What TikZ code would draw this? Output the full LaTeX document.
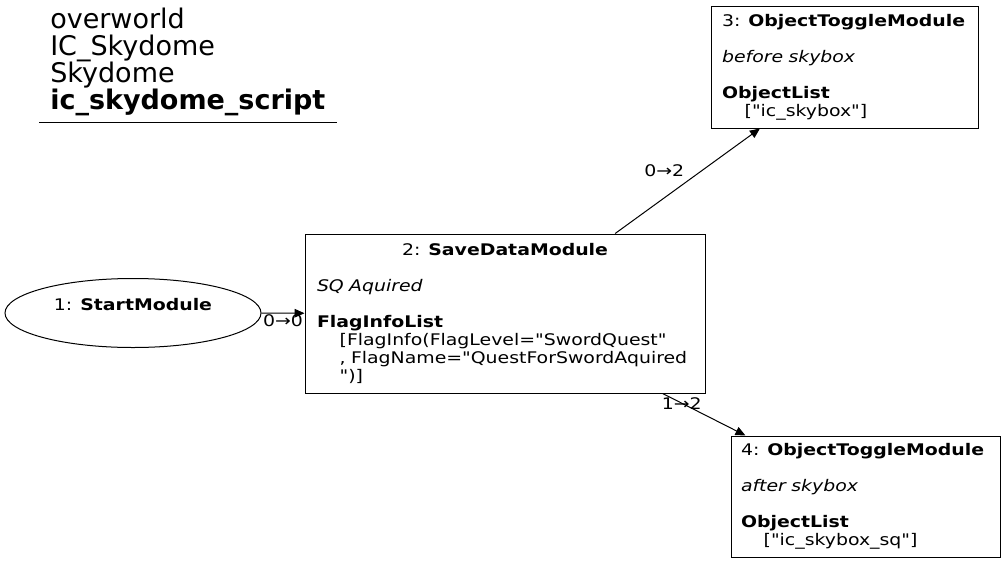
\documentclass[tikz,border=0pt]{standalone}
\usepackage{fontspec}
\setmainfont{DejaVu Sans}[Ligatures=TeXOff]
\newfontfamily\modfont{DejaVu Sans}[FakeStretch=1.18, Ligatures=TeXOff]
\usetikzlibrary{arrows.meta,shapes.geometric}

\begin{document}
\begin{tikzpicture}[
  x = 0.75pt, y = -0.75pt,
  txt/.style    = {font=\modfont\fontsize{12}{13.5}\selectfont},
  module/.style = {draw, line width=0.75pt, txt, align=left, inner xsep=0pt, inner ysep=0pt},
  start/.style  = {draw, line width=0.75pt, ellipse, txt, align=center,
                   minimum width=192pt, minimum height=51.75pt, inner sep=0pt},
  link/.style   = {draw, line width=0.75pt, -{Triangle[length=7.5pt, width=6.5pt]}},
  lbl/.style    = {txt, inner sep=1pt},
]

\useasboundingbox (0,0) rectangle (1005,564);

% heading
\node[anchor=south west, align=left, inner xsep=8.25pt, inner ysep=4.5pt,
      text width=206.25pt, font=\fontsize{20.25}{20.25}\selectfont]
  (heading) at (39,122)
  {overworld\\IC\_Skydome\\Skydome\\\textbf{ic\_skydome\_script}};
\draw[line width=0.75pt] (heading.south west) -- (heading.south east);

% modules
\node[start] (startmod) at (133,313) {1: \textbf{StartModule}\\\mbox{}};

\node[module, minimum width=300pt, minimum height=119.25pt, text width=282pt]
  (savedata) at (505,313.5)
  {\makebox[282pt]{2: \textbf{SaveDataModule}}\\[13.5pt]
   \textit{SQ Aquired}\\[13.5pt]
   \textbf{FlagInfoList}\\
   \hspace*{17pt}[FlagInfo(FlagLevel="SwordQuest"\\
   \hspace*{17pt}, FlagName="QuestForSwordAquired\\
   \hspace*{17pt}")]};

\node[module, minimum width=200.25pt, minimum height=91.5pt, text width=183.75pt]
  (toggleA) at (844.5,67)
  {3: \textbf{ObjectToggleModule}\\[13.5pt]
   \textit{before skybox}\\[13.5pt]
   \textbf{ObjectList}\\
   \hspace*{17pt}["ic\_skybox"]};

\node[module, minimum width=201.75pt, minimum height=90.75pt, text width=186.75pt]
  (toggleB) at (865.5,496.5)
  {4: \textbf{ObjectToggleModule}\\[13.5pt]
   \textit{after skybox}\\[13.5pt]
   \textbf{ObjectList}\\
   \hspace*{17pt}["ic\_skybox\_sq"]};

% links
\draw[link] (startmod) -- node[lbl, below] {0→0} (savedata);
\draw[link] (savedata) -- node[lbl, pos=0.6, left=12pt] {0→2} (toggleA);
\draw[link] (savedata) -- node[lbl, pos=0.23] {1→2} (toggleB);

\end{tikzpicture}
\end{document}
